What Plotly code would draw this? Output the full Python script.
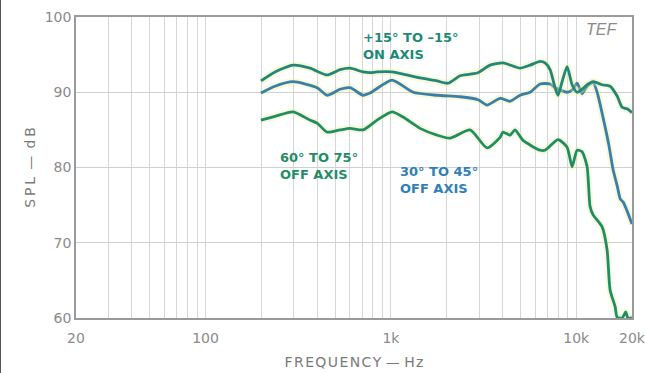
import plotly.graph_objects as go

# Frequency response curves (Hz, dB SPL)
on_axis_freq = [199, 237, 297, 366, 453, 532, 602, 708, 772, 842, 1015, 1163, 1437,
                1775, 2035, 2362, 2675, 2955, 3430, 4030, 4980, 5636, 6382, 6792,
                7228, 7692, 7982, 8391, 8930, 9503, 10113, 10760, 11452, 12336,
                13800, 15240, 16630, 17700, 18835, 20000]
on_axis_db = [91.5, 92.7, 93.6, 93.2, 92.3, 93.0, 93.2, 92.7, 92.6, 92.7, 92.7, 92.4, 91.9,
              91.5, 91.2, 92.2, 92.4, 92.6, 93.6, 93.9, 93.2, 93.6, 94.1, 93.9,
              93.0, 90.6, 89.6, 91.4, 93.4, 91.0, 90.0, 90.4, 91.0, 91.4,
              91.0, 90.8, 89.5, 88.0, 87.8, 87.3]

off30_freq = [199, 237, 297, 400, 453, 532, 602, 708, 772, 1015, 1317, 1775, 2362,
              2955, 3303, 3883, 4397, 4980, 5636, 6382, 7228, 7692, 8930, 9503,
              10113, 10760, 11452, 12336, 12970, 14000, 15000, 15816, 16630,
              17300, 17930, 18835, 20000]
off30_db = [89.9, 90.8, 91.4, 90.6, 89.6, 90.4, 90.6, 89.6, 89.9, 91.6, 90.0, 89.6, 89.4,
            89.0, 88.3, 89.2, 88.8, 89.6, 90.0, 91.1, 91.1, 90.6, 90.0, 90.3,
            91.2, 89.8, 90.8, 91.3, 90.0, 86.5, 83.0, 79.7, 77.6,
            75.8, 75.4, 74.2, 72.5]

off60_freq = [199, 237, 297, 366, 400, 453, 532, 602, 708, 842, 1015, 1163, 1437,
              1775, 2085, 2675, 3303, 3883, 4030, 4397, 4678, 5168, 6382, 6792,
              7982, 8930, 9503, 10113, 10760, 11452, 11885, 12336, 13800, 14685,
              15240, 16220, 16630, 17700, 18500, 19000, 20000]
off60_db = [86.3, 86.8, 87.4, 86.3, 85.9, 84.7, 85.0, 85.2, 85.0, 86.3, 87.4, 86.7, 85.2,
            84.3, 83.9, 85.0, 82.6, 84.0, 84.7, 84.3, 85.0, 83.6, 82.3, 82.3,
            83.7, 82.7, 80.1, 82.3, 82.1, 80.1, 74.8, 73.7, 72.1, 69.0,
            63.7, 61.5, 60.1, 60.0, 60.8, 60.0, 60.0]

# Axis ticks and grid positions
grid_freqs = [20, 30, 40, 50, 60, 70, 80, 90,
              100, 200, 300, 400, 500, 600, 700, 800, 900,
              1000, 2000, 3000, 4000, 5000, 6000, 7000, 8000, 9000,
              10000, 20000]
freq_labels = {20: "20", 100: "100", 1000: "1k", 10000: "10k", 20000: "20k"}
db_ticks = [60, 70, 80, 90, 100]

c_on = "#22877a"
c_30 = "#3a7fa8"
c_60 = "#1f8d68"


def spaced(s, sep="\u2009"):
    # widen the tracking of a title
    return sep.join(s)


fig = go.Figure()
for f, d, c in [(off60_freq, off60_db, c_60),
                (off30_freq, off30_db, c_30),
                (on_axis_freq, on_axis_db, c_on)]:
    # faint yellow halo under each curve
    fig.add_trace(go.Scatter(x=f, y=d, mode="lines",
                             line=dict(color="rgba(235,235,150,0.35)", width=7,
                                       shape="spline", smoothing=0.6),
                             hoverinfo="skip", showlegend=False))
    fig.add_trace(go.Scatter(x=f, y=d, mode="lines",
                             line=dict(color=c, width=2.8, shape="spline", smoothing=0.6),
                             showlegend=False))

tick_font = dict(family="DejaVu Sans", size=14, color="#8a8a8a")
title_font = dict(family="DejaVu Sans", size=14, color="#7a7a7a")

fig.update_xaxes(type="log", range=[1.30103, 4.30103],
                 tickvals=grid_freqs,
                 ticktext=[freq_labels.get(v, "") for v in grid_freqs],
                 showgrid=True, gridcolor="#d6d6d6", gridwidth=1,
                 showline=True, linecolor="#9a9a9a", linewidth=1.5, mirror=True,
                 ticks="", tickfont=tick_font, zeroline=False, ticklabelstandoff=6,
                 ticklabeloverflow="allow", automargin=False,
                 title=dict(text=spaced("FREQUENCY", "\u200a") + " — " + spaced("Hz", "\u200a"),
                            standoff=13, font=title_font))
fig.update_yaxes(range=[60, 100], tickvals=db_ticks,
                 showgrid=True, gridcolor="#d0d0d0", gridwidth=1,
                 showline=True, linecolor="#9a9a9a", linewidth=1.5, mirror=True,
                 ticks="", tickfont=tick_font, zeroline=False, automargin=False,
                 title=dict(text=spaced("SPL") + " \u2009—\u2009 " + spaced("dB"), standoff=6,
                            font=title_font))

annotations = [
    dict(x=0.512, y=0.964, text="+15° TO –15°<br>ON AXIS", color="#1b8a75"),
    dict(x=0.363, y=0.565, text="60° TO 75°<br>OFF AXIS", color="#1f8d66"),
    dict(x=0.579, y=0.517, text="30° TO 45°<br>OFF AXIS", color="#2f7fba"),
]
for a in annotations:
    fig.add_annotation(x=a["x"], y=a["y"], xref="paper", yref="paper",
                       text=a["text"], showarrow=False, align="left",
                       xanchor="left", yanchor="top",
                       font=dict(family="DejaVu Sans", size=13, color=a["color"],
                                 weight="bold"))

fig.add_annotation(x=0.977, y=0.995, xref="paper", yref="paper", text="<i>TEF</i>",
                   showarrow=False, xanchor="right", yanchor="top",
                   font=dict(family="Liberation Sans", size=16, color="#8a8a8a"))

# dark edge at the left of the page
fig.add_shape(type="line", xref="paper", yref="paper",
              x0=-76/556, x1=-76/556, y0=-55/301, y1=1 + 17/301,
              line=dict(color="#555555", width=2))

fig.update_layout(width=645, height=373,
                  margin=dict(l=76, r=13, t=17, b=55),
                  paper_bgcolor="white", plot_bgcolor="white")

fig.write_html("out.html", config={"displayModeBar": False})
